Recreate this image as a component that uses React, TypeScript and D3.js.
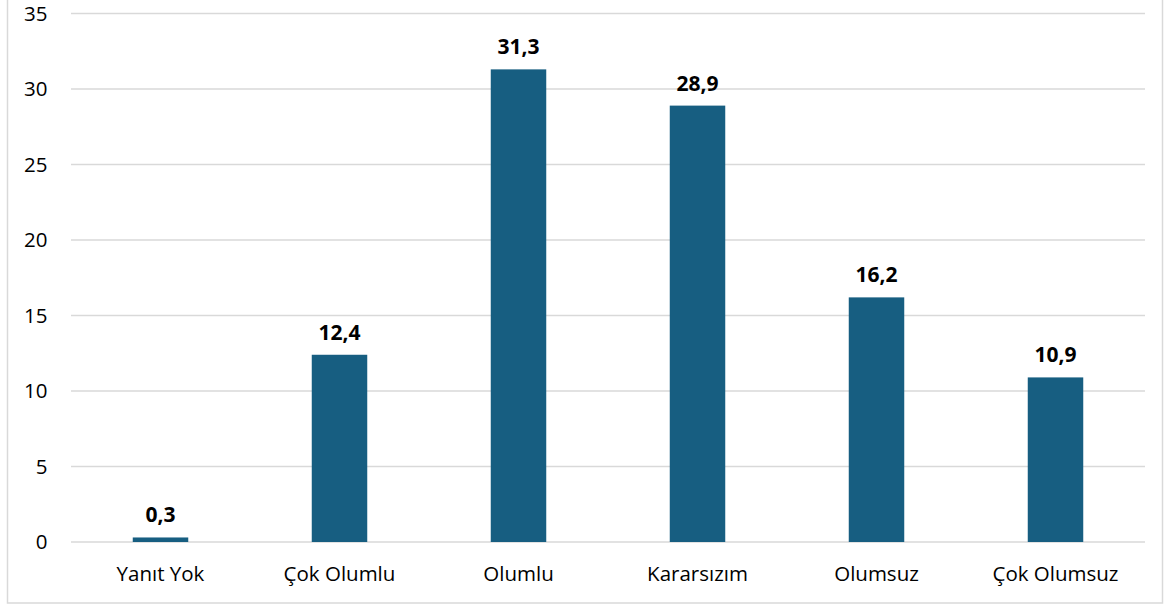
import * as d3 from "d3";
import { useEffect, useRef } from "react";

const categories = ["Yanıt Yok", "Çok Olumlu", "Olumlu", "Kararsızım", "Olumsuz", "Çok Olumsuz"];
const values = [0.3, 12.4, 31.3, 28.9, 16.2, 10.9];
const yTicks = [0, 5, 10, 15, 20, 25, 30, 35];

export default function App() {
    const ref = useRef<SVGSVGElement | null>(null);

    useEffect(() => {
        if (!ref.current) return;
        const font = "Open Sans, Noto Sans, sans-serif";

        const svg = d3.select(ref.current);
        svg.selectAll("*").remove();

        // outer frame
        svg.append("rect")
            .attr("x", 7.5).attr("y", -5)
            .attr("width", 1155).attr("height", 608)
            .attr("fill", "#fff")
            .attr("stroke", "#d9d9d9")
            .attr("stroke-width", 1.5);

        const x = d3.scaleBand()
            .domain(categories)
            .range([71, 1145])
            .paddingInner(0.69)
            .paddingOuter(0.345);

        const y = d3.scaleLinear().domain([0, 35]).range([542, 13.5]);

        // gridlines
        svg.append("g")
            .selectAll("line")
            .data(yTicks)
            .join("line")
            .attr("x1", 71).attr("x2", 1145)
            .attr("y1", (d) => y(d)).attr("y2", (d) => y(d))
            .attr("stroke", "#d9d9d9")
            .attr("stroke-width", 1.5);

        // y tick labels
        svg.append("g")
            .selectAll("text")
            .data(yTicks)
            .join("text")
            .attr("x", 47.5)
            .attr("y", (d) => y(d))
            .attr("dy", "0.35em")
            .attr("text-anchor", "end")
            .style("font-family", font)
            .style("font-size", "20.5px")
            .attr("fill", "#000")
            .text((d) => d);

        // bars
        const data = categories.map((c, i) => ({ c, v: values[i] }));
        svg.append("g")
            .selectAll("rect")
            .data(data)
            .join("rect")
            .attr("x", (d) => x(d.c)!)
            .attr("y", (d) => y(d.v))
            .attr("width", x.bandwidth())
            .attr("height", (d) => y(0) - y(d.v))
            .attr("fill", "#175e81");

        // value labels
        svg.append("g")
            .selectAll("text")
            .data(data)
            .join("text")
            .attr("x", (d) => x(d.c)! + x.bandwidth() / 2)
            .attr("y", (d) => y(d.v) - 15)
            .attr("text-anchor", "middle")
            .style("font-family", font)
            .style("font-size", "21px")
            .style("font-weight", "bold")
            .attr("fill", "#000")
            .text((d) => d3.format(".1f")(d.v).replace(".", ","));

        // category labels
        svg.append("g")
            .selectAll("text")
            .data(categories)
            .join("text")
            .attr("x", (d) => x(d)! + x.bandwidth() / 2)
            .attr("y", 581)
            .attr("text-anchor", "middle")
            .style("font-family", font)
            .style("font-size", "20.5px")
            .attr("fill", "#000")
            .text((d) => d);
    }, []);

    return (
        <svg
            ref={ref}
            width={1166}
            height={607}
            style={{ position: "absolute", left: 0, top: 0, display: "block" }}
        ></svg>
    );
}
